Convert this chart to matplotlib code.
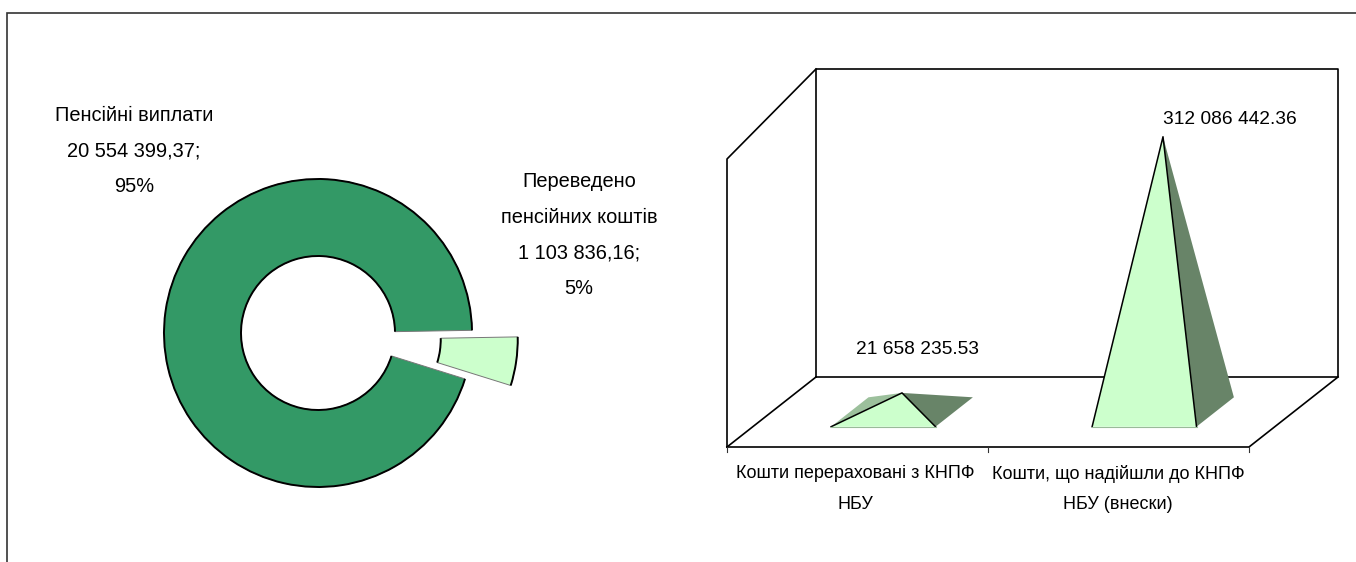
import matplotlib
matplotlib.use("Agg")
import matplotlib.pyplot as plt
from matplotlib.patches import Arc, Polygon

W, H = 1356, 562

# ---- data ----
pie_names = ["Переведено\nпенсійних коштів", "Пенсійні виплати"]
pie_values = [1103836.16, 20554399.37]
pie_value_labels = ["1 103 836,16;", "20 554 399,37;"]
pie_pct_labels = ["5%", "95%"]
pie_colors = ["#CCFFCC", "#339966"]
pie_explode = [0.30, 0.0]

bar_categories = ["Кошти перераховані з КНПФ\nНБУ", "Кошти, що надійшли до КНПФ\nНБУ (внески)"]
bar_values = [21658235.53, 312086442.36]
bar_value_labels = ["21 658 235.53", "312 086 442.36"]

FONT = ["Liberation Sans", "DejaVu Sans"]
FS = 13
FS_PIE = 14.4

fig = plt.figure(figsize=(W / 100, H / 100), dpi=100, facecolor="white")

# full-figure pixel axes for frame, 3D box, and texts
ax = fig.add_axes([0, 0, 1, 1])
ax.set_xlim(0, W)
ax.set_ylim(H, 0)
ax.axis("off")

# outer chart border
ax.plot([7, 7, W], [H, 13, 13], color="#333333", lw=1.2, solid_joinstyle="miter")

# ---- donut ----
cx, cy, R = 318, 333, 154
box = 2 * 1.5 * R
pie_ax = fig.add_axes([(cx - box / 2) / W, 1 - (cy + box / 2) / H, box / W, box / H])
pie_ax.set_facecolor("none")
wedges, _ = pie_ax.pie(pie_values, explode=pie_explode, colors=pie_colors, startangle=1.0,
                       counterclock=False, radius=1,
                       wedgeprops=dict(width=0.5, edgecolor="#777777", linewidth=0.7))
pie_ax.set_xlim(-1.5, 1.5)
pie_ax.set_ylim(-1.5, 1.5)
pie_ax.set_aspect("equal")
for w in wedges:
    for rr in (w.r, w.r - w.width):
        pie_ax.add_patch(Arc(w.center, 2 * rr, 2 * rr, theta1=w.theta1, theta2=w.theta2,
                             color="black", lw=1.4))

# ---- 3D pyramid chart, a hand-made oblique projection ----
FX0, FX1, FY = 727, 1249, 447      # front floor edge
DX, DY = 89, -70                   # depth vector
PX_PER_VALUE = 0.882e-6            # pixels per unit of value
WALL = 308                         # wall height in pixels


def proj(cat, depth, value=0.0):
    x = FX0 + (FX1 - FX0) * cat / len(bar_values) + DX * depth
    y = FY + DY * depth - value * PX_PER_VALUE
    return x, y


line = dict(color="black", lw=1.2, solid_capstyle="projecting")
BX0, BX1, BY = FX0 + DX, FX1 + DX, FY + DY
# back wall, left wall, floor
ax.plot([BX0, BX0, BX1, BX1, BX0], [BY, BY - WALL, BY - WALL, BY, BY], **line)
ax.plot([FX0, FX0, BX0], [FY, FY - WALL + 20, BY - WALL], **line)
ax.plot([FX0, BX0], [FY, BY], **line)
ax.plot([FX0, FX1, BX1], [FY, FY, BY], **line)
# ticks
for i in range(len(bar_values) + 1):
    x, y = proj(i, 0)
    ax.plot([x, x], [y, y + 5], color="#333333", lw=0.8)

HALF_W, HALF_D = 0.2, 0.21
FACE_FRONT, FACE_RIGHT, FACE_LEFT = "#CCFFCC", "#688468", "#9CC09C"
for i, v in enumerate(bar_values):
    c = i + 0.5
    apex = proj(c, 0.5, v)
    fl = proj(c - HALF_W, 0.5 - HALF_D)
    fr = proj(c + HALF_W, 0.5 - HALF_D)
    bl = proj(c - HALF_W, 0.5 + HALF_D)
    br = proj(c + HALF_W, 0.5 + HALF_D)
    for pts, col in [([fl, bl, apex], FACE_LEFT),
                     ([fr, br, apex], FACE_RIGHT),
                     ([fl, fr, apex], FACE_FRONT)]:
        ax.add_patch(Polygon(pts, closed=True, facecolor=col, edgecolor="none", zorder=3))
    ax.plot([fl[0], apex[0], fr[0]], [fl[1], apex[1], fr[1]], color="black", lw=1.1, zorder=4)
    ax.plot([fl[0], fr[0]], [fl[1], fr[1]], color="#99BB99", lw=0.8, zorder=4)

text = dict(family=FONT, ha="center", va="center", color="black")
for (lx, ly), s in zip([(917, 349), (1230, 119)], bar_value_labels):
    ax.text(lx, ly, s, fontsize=FS_PIE - 0.6, **text)
for (lx, ly), s in zip([(855, 489), (1118, 489)], bar_categories):
    ax.text(lx, ly, s, fontsize=FS, linespacing=2.07, **text)

ax.text(134, 151, f"{pie_names[1]}\n{pie_value_labels[1]}\n{pie_pct_labels[1]}",
        fontsize=FS_PIE, linespacing=2.11, **text)
ax.text(579, 235, f"{pie_names[0]}\n{pie_value_labels[0]}\n{pie_pct_labels[0]}",
        fontsize=FS_PIE, linespacing=2.11, **text)

fig.savefig("out.png", dpi=100, facecolor="white")
